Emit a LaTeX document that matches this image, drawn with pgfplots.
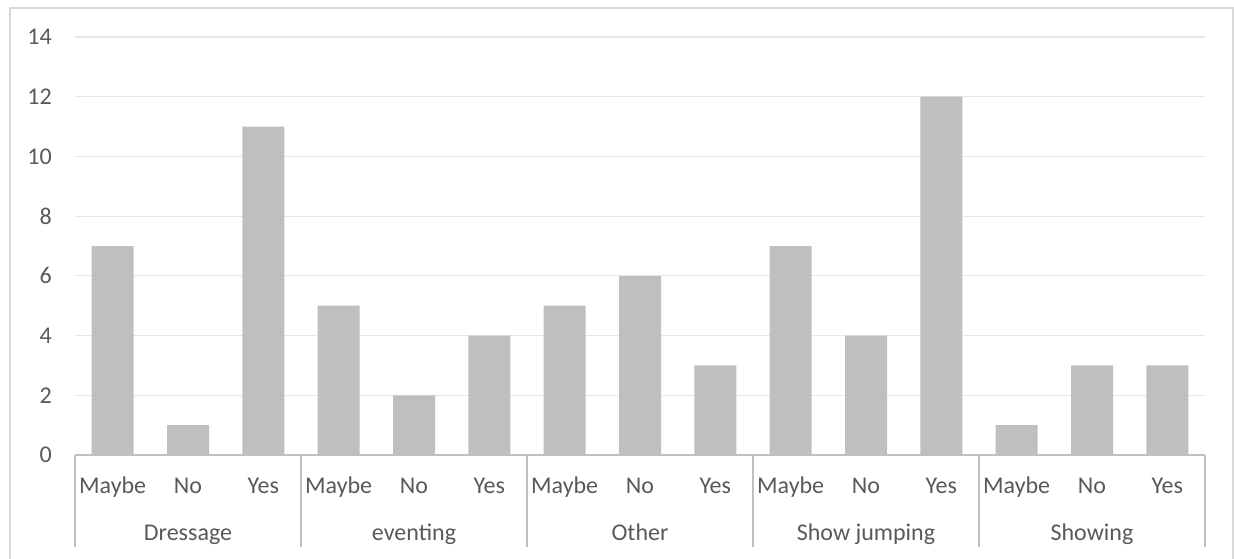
\documentclass[border=0pt]{standalone}
\usepackage{pgfplots}
\pgfplotsset{compat=1.18}
\usepackage{fontspec}
\setmainfont{Carlito}
\definecolor{barc}{HTML}{BFBFBF}
\definecolor{gridc}{HTML}{E6E6E6}
\definecolor{axc}{HTML}{BFBFBF}
\definecolor{txt}{HTML}{595959}
\definecolor{frame}{HTML}{D9D9D9}
\begin{document}
\begin{tikzpicture}
\draw[frame, line width=1.5pt] (10pt,-570pt) -- (10pt,-8pt) -- (1233pt,-8pt) -- (1233pt,-570pt);
\begin{axis}[
  at={(75pt,-455pt)}, anchor=south west,
  scale only axis, width=1130pt, height=418pt,
  xmin=-0.5, xmax=14.5, ymin=0, ymax=14,
  ytick={0,2,...,14},
  xtick={0,...,14},
  xticklabels={Maybe,No,Yes,Maybe,No,Yes,Maybe,No,Yes,Maybe,No,Yes,Maybe,No,Yes},
  ymajorgrids, grid style={gridc, line width=1.2pt},
  axis line style={draw=none}, major tick style={draw=none},
  ticklabel style={font=\fontsize{24}{28}\selectfont, text=txt},
  /pgf/number format/assume math mode=true,
  yticklabel style={anchor=east, inner sep=0pt, xshift=-23pt},
  xticklabel style={anchor=base, inner sep=0pt, yshift=-38pt},
  clip=false,
]
\addplot[ybar, bar width=42pt, fill=barc, draw=none] coordinates {
 (0,7) (1,1) (2,11) (3,5) (4,2) (5,4) (6,5) (7,6) (8,3) (9,7) (10,4) (11,12) (12,1) (13,3) (14,3)};
\draw[axc, line width=1.8pt] (axis cs:-0.5,0) -- (axis cs:14.5,0);
\pgfplotsinvokeforeach{-0.5,2.5,5.5,8.5,11.5,14.5}{
  \draw[axc, line width=1.8pt] (axis cs:#1,0) -- ([yshift=-92pt]axis cs:#1,0);
}
\node[anchor=base, inner sep=0pt, text=txt, font=\fontsize{24}{28}\selectfont] at ([yshift=-85pt]axis cs:1,0) {Dressage};
\node[anchor=base, inner sep=0pt, text=txt, font=\fontsize{24}{28}\selectfont] at ([yshift=-85pt]axis cs:4,0) {eventing};
\node[anchor=base, inner sep=0pt, text=txt, font=\fontsize{24}{28}\selectfont] at ([yshift=-85pt]axis cs:7,0) {Other};
\node[anchor=base, inner sep=0pt, text=txt, font=\fontsize{24}{28}\selectfont] at ([yshift=-85pt]axis cs:10,0) {Show jumping};
\node[anchor=base, inner sep=0pt, text=txt, font=\fontsize{24}{28}\selectfont] at ([yshift=-85pt]axis cs:13,0) {Showing};
\end{axis}
\pgfresetboundingbox
\useasboundingbox (0,0) rectangle (1234pt,-559pt);
\end{tikzpicture}
\end{document}
